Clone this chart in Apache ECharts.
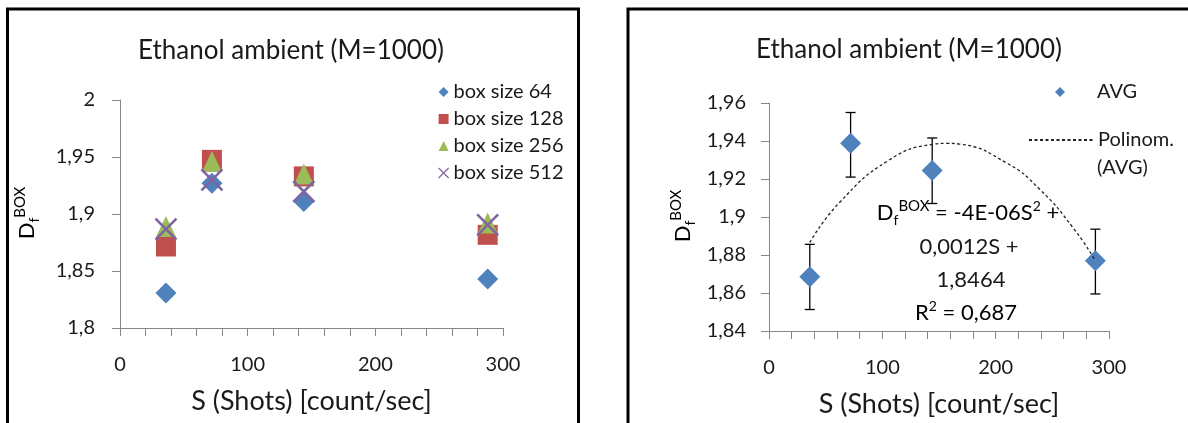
<!DOCTYPE html>
<html>
<head>
<meta charset="utf-8">
<script src="https://cdn.jsdelivr.net/npm/echarts@6/dist/echarts.min.js"></script>
<style>
html,body{margin:0;padding:0;background:#fff;}
#c{width:1188px;height:423px;}
</style>
</head>
<body>
<div id="c"></div>
<script>
// ---- data ----
const shots = [36, 72, 144, 288];
const box64 = [1.8307, 1.927, 1.911, 1.843];
const box128 = [1.8715, 1.9475, 1.933, 1.8817];
const box256 = [1.889, 1.946, 1.935, 1.892];
const box512 = [1.8867, 1.930, 1.9197, 1.8905];
const seriesNames = ['box size 64', 'box size 128', 'box size 256', 'box size 512'];

const avg = [1.8685, 1.9388, 1.9245, 1.877];
const errLow = [1.8513, 1.921, 1.9071, 1.8595];
const errHigh = [1.8856, 1.955, 1.9416, 1.8936];

const trendS = [36, 62, 106, 144, 157, 168, 210, 239, 268, 288];
const trendD = [1.8866, 1.9075, 1.9300, 1.9382, 1.9388, 1.9384, 1.9283, 1.9145, 1.8946, 1.877];

const leftYTicks = ['1,8', '1,85', '1,9', '1,95', '2'];
const rightYTicks = ['1,84', '1,86', '1,88', '1,9', '1,92', '1,94', '1,96'];
const xTicks = ['0', '100', '200', '300'];

const titleText = 'Ethanol ambient (M=1000)';
const xName = 'S (Shots) [count/sec]';
const eqLines = ['0,0012S +', '1,8464'];

// ---- styling ----
const FONT = 'Lato, "Open Sans", sans-serif';
const AX = '#868686';
const TXT = '#1a1a1a';
const C1 = '#4F81BD', C2 = '#C0504D', C3 = '#9BBB59', C4 = '#8064A2';

function pair(a) { return shots.map((s, i) => [s, a[i]]); }

function xAxisCfg(gi) {
  return {
    type: 'value', gridIndex: gi, min: 0, max: 300, interval: 100,
    axisLine: { show: true, lineStyle: { color: AX, width: 1 } },
    axisTick: { show: true, length: 8, lineStyle: { color: AX } },
    minorTick: { show: true, splitNumber: 5, length: 8, lineStyle: { color: AX } },
    splitLine: { show: false },
    axisLabel: { margin: 27, fontFamily: FONT, fontSize: 20, color: TXT,
      formatter: (v, i) => xTicks[i] },
    name: xName, nameLocation: 'middle', nameGap: 60,
    nameTextStyle: { fontFamily: FONT, fontSize: 27, color: TXT }
  };
}
function yAxisCfg(gi, min, max, interval, labels, margin) {
  return {
    type: 'value', gridIndex: gi, min: min, max: max, interval: interval,
    axisLine: { show: true, lineStyle: { color: AX, width: 1 } },
    axisTick: { show: true, length: 8, lineStyle: { color: AX } },
    splitLine: { show: false },
    axisLabel: { margin: margin, fontFamily: FONT, fontSize: 20, color: TXT,
      formatter: (v, i) => labels[i] }
  };
}

const dfRich = {
  D: { fontFamily: FONT, fontSize: 22, lineHeight: 28, color: TXT },
  f: { fontFamily: FONT, fontSize: 14, lineHeight: 14, verticalAlign: 'bottom', color: TXT },
  b: { fontFamily: FONT, fontSize: 15, lineHeight: 15, verticalAlign: 'top', color: TXT },
  n: { fontFamily: FONT, fontSize: 22, lineHeight: 28, color: TXT },
  s: { fontFamily: FONT, fontSize: 14, lineHeight: 16, verticalAlign: 'top', color: TXT }
};

const chart = echarts.init(document.getElementById('c'), null, { renderer: 'canvas' });
const xSym = 'path://M0,0L10,10M10,0L0,10';
const legendText = { fontFamily: FONT, fontSize: 20, lineHeight: 20, color: TXT };

chart.setOption({
  backgroundColor: '#fff',
  animation: false,
  grid: [
    { left: 120, top: 100, width: 383, height: 228 },
    { left: 769, top: 103, width: 340, height: 230 }
  ],
  xAxis: [xAxisCfg(0), xAxisCfg(1)],
  yAxis: [
    yAxisCfg(0, 1.8, 2.0, 0.05, leftYTicks, 25),
    yAxisCfg(1, 1.84, 1.96, 0.02, rightYTicks, 23)
  ],
  legend: [
    {
      data: [
        { name: seriesNames[0] }, { name: seriesNames[1] }, { name: seriesNames[2] },
        { name: seriesNames[3], itemStyle: { borderWidth: 1.2 } }
      ],
      orient: 'vertical', left: 438, top: 82, itemWidth: 10, itemHeight: 10, itemGap: 7,
      padding: 0, selectedMode: false, textStyle: legendText
    },
    {
      data: ['AVG'], left: 1055, top: 82, itemWidth: 10, itemHeight: 10, padding: 0,
      selectedMode: false,
      textStyle: Object.assign({}, legendText, { padding: [0, 0, 0, 27] })
    },
    {
      data: [{ name: 'Polinom. (AVG)', itemStyle: { color: 'rgba(0,0,0,0)', opacity: 0, borderWidth: 0 } }],
      left: 1028, top: 130, itemWidth: 64, itemHeight: 10, padding: 0,
      selectedMode: false, formatter: () => 'Polinom.', textStyle: legendText
    }
  ],
  series: [
    { name: seriesNames[0], type: 'scatter', xAxisIndex: 0, yAxisIndex: 0, data: pair(box64),
      symbol: 'diamond', symbolSize: 21, itemStyle: { color: C1, opacity: 1 }, z: 2 },
    { name: seriesNames[1], type: 'scatter', xAxisIndex: 0, yAxisIndex: 0, data: pair(box128),
      symbol: 'rect', symbolSize: 20, itemStyle: { color: C2, opacity: 1 }, z: 3 },
    { name: seriesNames[2], type: 'scatter', xAxisIndex: 0, yAxisIndex: 0, data: pair(box256),
      symbol: 'triangle', symbolSize: [20, 21], itemStyle: { color: C3, opacity: 1 }, z: 4 },
    { name: seriesNames[3], type: 'scatter', xAxisIndex: 0, yAxisIndex: 0, data: pair(box512),
      symbol: xSym, symbolSize: 21,
      itemStyle: { color: 'rgba(0,0,0,0)', borderColor: C4, borderWidth: 2.6, opacity: 1 }, z: 5 },
    {
      name: 'err', type: 'custom', xAxisIndex: 1, yAxisIndex: 1, z: 2,
      data: shots.map((s, i) => [s, errLow[i], errHigh[i]]),
      renderItem: function (params, api) {
        const x = api.value(0);
        const lo = api.coord([x, api.value(1)]);
        const hi = api.coord([x, api.value(2)]);
        const hw = 5;
        const st = { stroke: '#000', lineWidth: 1.3 };
        return { type: 'group', children: [
          { type: 'line', shape: { x1: lo[0], y1: lo[1], x2: hi[0], y2: hi[1] }, style: st },
          { type: 'line', shape: { x1: lo[0] - hw, y1: lo[1], x2: lo[0] + hw, y2: lo[1] }, style: st },
          { type: 'line', shape: { x1: hi[0] - hw, y1: hi[1], x2: hi[0] + hw, y2: hi[1] }, style: st }
        ] };
      }
    },
    { name: 'AVG', type: 'scatter', xAxisIndex: 1, yAxisIndex: 1, data: pair(avg),
      symbol: 'diamond', symbolSize: 21, itemStyle: { color: C1, opacity: 1 }, z: 3 },
    { name: 'Polinom. (AVG)', type: 'line', xAxisIndex: 1, yAxisIndex: 1,
      data: trendS.map((s, i) => [s, trendD[i]]), smooth: 0.5, symbol: 'none', showSymbol: false,
      lineStyle: { color: '#222', width: 1.3, type: [3, 2.5] }, itemStyle: { color: '#222' }, z: 4 }
  ],
  graphic: [
    { type: 'rect', shape: { x: 7.5, y: 9, width: 571, height: 500 },
      style: { fill: 'none', stroke: '#000', lineWidth: 3 }, silent: true },
    { type: 'rect', shape: { x: 628, y: 9, width: 620, height: 500 },
      style: { fill: 'none', stroke: '#000', lineWidth: 3 }, silent: true },
    { type: 'text', x: 291, y: 51, style: { text: titleText, font: '26px ' + FONT, fill: TXT,
      align: 'center', verticalAlign: 'middle' } },
    { type: 'text', x: 909, y: 50, style: { text: titleText, font: '26px ' + FONT, fill: TXT,
      align: 'center', verticalAlign: 'middle' } },
    { type: 'text', x: 27, y: 213, rotation: Math.PI / 2,
      style: { text: '{D|D}{f|f}{b|BOX}', rich: dfRich, align: 'center', verticalAlign: 'middle' } },
    { type: 'text', x: 683, y: 216, rotation: Math.PI / 2,
      style: { text: '{D|D}{f|f}{b|BOX}', rich: dfRich, align: 'center', verticalAlign: 'middle' } },
    { type: 'text', x: 968, y: 213,
      style: { text: '{D|D}{f|f}{b|BOX}{n| = -4E-06S}{s|2}{n| +}', rich: dfRich, align: 'center', verticalAlign: 'middle' } },
    { type: 'text', x: 969, y: 247, style: { text: eqLines[0], font: '22px ' + FONT, fill: TXT,
      align: 'center', verticalAlign: 'middle' } },
    { type: 'text', x: 971, y: 280, style: { text: eqLines[1], font: '22px ' + FONT, fill: TXT,
      align: 'center', verticalAlign: 'middle' } },
    { type: 'text', x: 966, y: 313,
      style: { text: '{n|R}{s|2}{n| = 0,687}', rich: dfRich, align: 'center', verticalAlign: 'middle' } },
    { type: 'text', x: 1097, y: 168, style: { text: '(AVG)', font: '20px ' + FONT, fill: TXT,
      align: 'left', verticalAlign: 'middle' } }
  ]
});
</script>
</body>
</html>
